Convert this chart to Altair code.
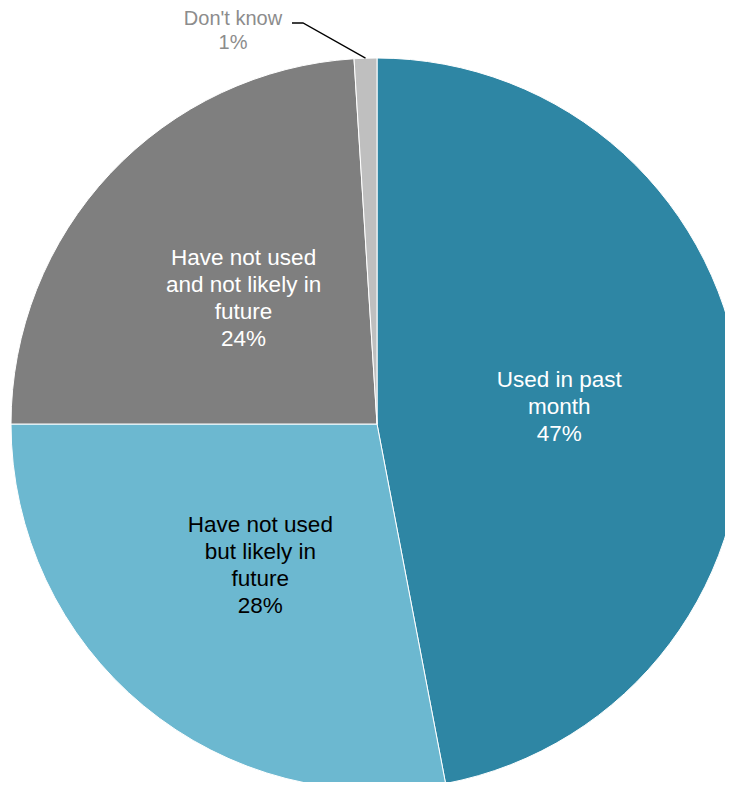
import math
import altair as alt
import pandas as pd

# ---- data ----
categories = ["Used in past month", "Have not used but likely in future",
              "Have not used and not likely in future", "Don't know"]
values = [47, 28, 24, 1]
labels = ["Used in past\nmonth\n47%", "Have not used\nbut likely in\nfuture\n28%",
          "Have not used\nand not likely in\nfuture\n24%", ""]
dk_label = "Don't know\n1%"

# ---- styles ----
slice_colors = ["#2E86A4", "#6CB8D0", "#7F7F7F", "#BFBFBF"]
text_colors = ["#FFFFFF", "#000000", "#FFFFFF", "#FFFFFF"]
FONT = "Liberation Sans"

W, H = 717, 774
CX, CY = 369, 416
R = 366
LABEL_R = 183
LH = 27

df = pd.DataFrame({
    "cat": categories,
    "val": values,
    "idx": list(range(len(categories))),
    "tcol": text_colors,
})
nlines = [l.count("\n") + 1 if l else 0 for l in labels]
df["label3"] = [l if n == 3 else "" for l, n in zip(labels, nlines)]
df["label4"] = [l if n == 4 else "" for l, n in zip(labels, nlines)]

base = alt.Chart(df).encode(
    theta=alt.Theta("val:Q", stack=True),
    order=alt.Order("idx:Q", sort="ascending"),
)

arcs = base.mark_arc(outerRadius=R, stroke="white", strokeWidth=1).encode(
    color=alt.Color("cat:N", scale=alt.Scale(domain=categories, range=slice_colors), legend=None),
    x=alt.value(CX),
    y=alt.value(CY),
)


def label_layer(field, n):
    return base.mark_text(
        radius=LABEL_R, fontSize=22.5, lineHeight=LH, lineBreak="\n",
        font=FONT, align="center", baseline="middle", dy=-(n - 1) * LH / 2,
    ).encode(
        text=f"{field}:N",
        color=alt.Color("tcol:N", scale=None),
        x=alt.value(CX),
        y=alt.value(CY),
    )


texts3 = label_layer("label3", 3)
texts4 = label_layer("label4", 4)

# Don't know: leader line from slice midpoint to label
total = sum(values)
start = sum(values[:3]) / total
mid_angle = (start + values[3] / total / 2) * 2 * math.pi
px = CX + R * math.sin(mid_angle)
py = CY - R * math.cos(mid_angle)
elbow_x, elbow_y = 295, 15
tail_x = 284
leader = pd.DataFrame({
    "x": [tail_x, elbow_x, px],
    "y": [elbow_y, elbow_y, py],
    "o": [0, 1, 2],
})
leader_line = alt.Chart(leader).mark_line(color="#000000", strokeWidth=1.3).encode(
    x=alt.X("x:Q", scale=None, axis=None),
    y=alt.Y("y:Q", scale=None, axis=None),
    order="o:Q",
)

dk = pd.DataFrame({"t": [dk_label], "x": [225], "y": [17]})
dk_text = alt.Chart(dk).mark_text(
    fontSize=20, lineHeight=23.5, lineBreak="\n", font=FONT,
    align="center", baseline="alphabetic", color="#8C8C8C",
).encode(
    x=alt.X("x:Q", scale=None, axis=None),
    y=alt.Y("y:Q", scale=None, axis=None),
    text="t:N",
)

chart = alt.layer(arcs, texts3, texts4, leader_line, dk_text).properties(
    width=W, height=H, padding=0,
    autosize=alt.AutoSizeParams(type="none"),
).configure_view(stroke=None)

chart.save("out.html", embed_options={"renderer": "svg", "actions": False})
